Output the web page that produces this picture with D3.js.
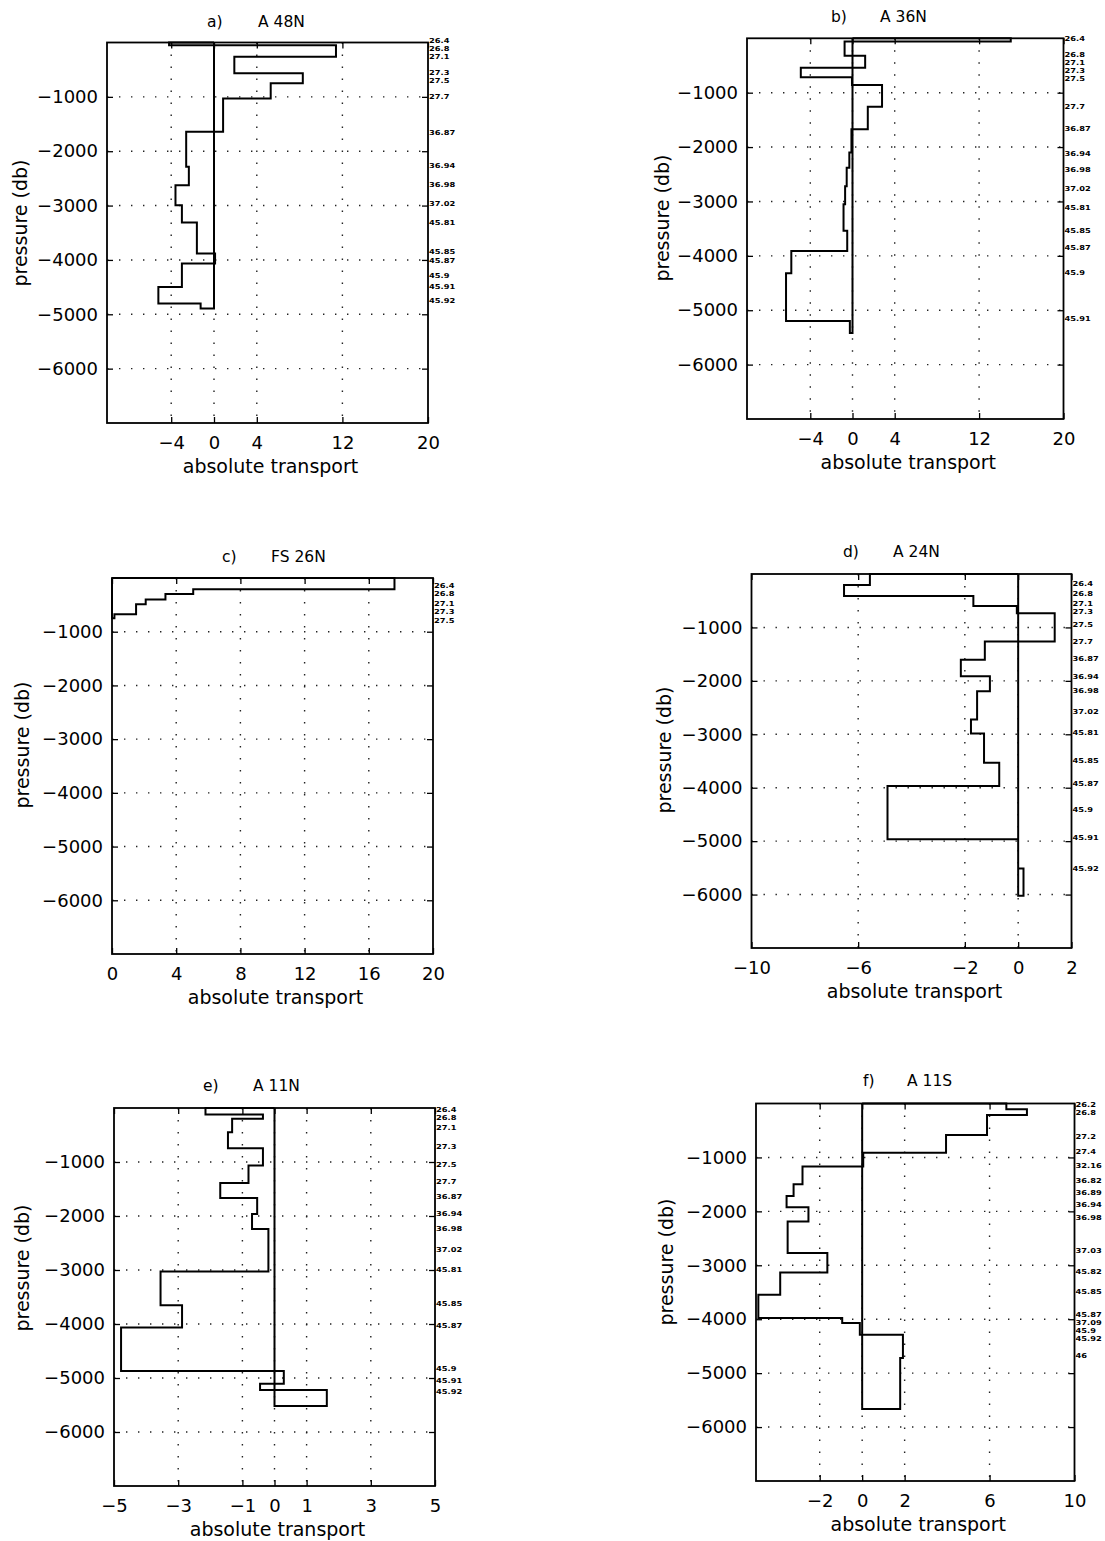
<!DOCTYPE html>
<html><head><meta charset="utf-8">
<script src="https://cdn.jsdelivr.net/npm/d3@7"></script>
<style>
body{margin:0;background:#fff}
svg{display:block}
text{font-family:"DejaVu Sans",sans-serif;fill:#000}
</style>
</head><body>
<svg id="chart" width="1105" height="1541"></svg>
<script>
// ---------- data ----------
const pressureTicks = [-1000, -2000, -3000, -4000, -5000, -6000];

// a) A 48N
const aDepth = [0, 50, 261, 567, 751, 1028, 1643, 2287, 2624, 2993, 3311, 3882, 4066, 4497, 4803, 4895];
const aTransport = [-4.2, 11.4, 1.9, 8.3, 5.3, 0.85, -2.6, -2.35, -3.6, -3.0, -1.6, 0.1, -3.0, -5.2, -1.25];
const aLabels = ["26.4","26.8","27.1","27.3","27.5","27.7","36.87","36.94","36.98","37.02","45.81","45.85","45.87","45.9","45.91","45.92"];
const aLabelDepth = [-28, 120, 267, 556, 703, 998, 1654, 2274, 2611, 2961, 3311, 3853, 4006, 4294, 4497, 4755];
const aTicks = [-4, 0, 4, 12, 20];

// b) A 36N
const bDepth = [0, 60, 320, 540, 717, 858, 1257, 1673, 2100, 2380, 2720, 3050, 3540, 3910, 4320, 5200, 5420];
const bTransport = [15.0, -0.75, 1.2, -4.9, -0.05, 2.8, 1.45, -0.1, -0.3, -0.55, -0.7, -0.85, -0.5, -5.8, -6.3, -0.25];
const bLabels = ["26.4","26.8","27.1","27.3","27.5","27.7","36.87","36.94","36.98","37.02","45.81","45.85","45.87","45.9","45.91"];
const bLabelDepth = [0, 294, 454, 601, 748, 1257, 1654, 2114, 2421, 2757, 3114, 3542, 3849, 4301, 5147];
const bTicks = [-4, 0, 4, 12, 20];

// c) FS 26N
const cDepth = [0, 210, 300, 400, 490, 675, 750];
const cTransport = [17.6, 5.06, 3.33, 2.1, 1.5, 0.15];
const cLabels = ["26.4","26.8","27.1","27.3","27.5"];
const cLabelDepth = [150, 300, 470, 630, 790];
const cTicks = [0, 4, 8, 12, 16, 20];

// d) A 24N
const dDepth = [0, 205, 410, 597, 733, 1263, 1604, 1916, 2195, 2724, 2985, 3532, 3968, 4963, 5510, 6021];
const dTransport = [-5.56, -6.53, -1.68, -0.05, 1.37, -1.25, -2.15, -1.06, -1.54, -1.77, -1.28, -0.71, -4.9, 0, 0.2];
const dLabels = ["26.4","26.8","27.1","27.3","27.5","27.7","36.87","36.94","36.98","37.02","45.81","45.85","45.87","45.9","45.91","45.92"];
const dLabelDepth = [187, 360, 547, 703, 951, 1263, 1591, 1916, 2177, 2569, 2972, 3502, 3918, 4403, 4931, 5509];
const dTicks = [-10, -6, -2, 0, 2];

// e) A 11N
const eDepth = [0, 120, 200, 449, 746, 1067, 1388, 1666, 1963, 2241, 3028, 3651, 4067, 4870, 5105, 5223, 5520];
const eTransport = [-2.15, -0.36, -1.32, -1.45, -0.36, -0.81, -1.69, -0.54, -0.7, -0.19, -3.55, -2.88, -4.78, 0.29, -0.45, 1.63];
const eLabels = ["26.4","26.8","27.1","27.3","27.5","27.7","36.87","36.94","36.98","37.02","45.81","45.85","45.87","45.9","45.91","45.92"];
const eLabelDepth = [28, 186, 356, 709, 1054, 1364, 1642, 1952, 2230, 2625, 3002, 3614, 4022, 4827, 5056, 5255];
const eTicks = [-5, -3, -1, 0, 1, 3, 5];

// f) A 11S
const fDepth = [0, 108, 213, 583, 911, 1170, 1496, 1713, 1922, 2189, 2774, 3133, 3546, 3978, 4070, 4287, 4719, 5663];
const fTransport = [6.79, 7.76, 5.88, 3.95, 0.05, -2.81, -3.23, -3.56, -2.53, -3.51, -1.64, -3.86, -4.89, -0.94, -0.11, 1.92, 1.79];
const fLabels = ["26.2","26.8","27.2","27.4","32.16","36.82","36.89","36.94","36.98","37.03","45.82","45.85","45.87","37.09","45.9","45.92","46"];
const fLabelDepth = [19, 176, 613, 891, 1157, 1429, 1651, 1880, 2107, 2731, 3114, 3485, 3917, 4065, 4213, 4361, 4676];
const fTicks = [-2, 0, 2, 6, 10];

// ---------- layout ----------
const panels = [
  {tag:"a)", name:"A 48N", depth:aDepth, tr:aTransport, labels:aLabels, labDepth:aLabelDepth, ticks:aTicks, dom:[-10,20],
   box:[107,428,42.5,423], tx:[207,258], ty:27, ylx:20, yly:223},
  {tag:"b)", name:"A 36N", depth:bDepth, tr:bTransport, labels:bLabels, labDepth:bLabelDepth, ticks:bTicks, dom:[-10,20],
   box:[747,1063.5,38.3,419], tx:[831,880], ty:22, ylx:662, yly:218},
  {tag:"c)", name:"FS 26N", depth:cDepth, tr:cTransport, labels:cLabels, labDepth:cLabelDepth, ticks:cTicks, dom:[0,20],
   box:[112,433,578,954], tx:[222,271], ty:562, ylx:22, yly:745},
  {tag:"d)", name:"A 24N", depth:dDepth, tr:dTransport, labels:dLabels, labDepth:dLabelDepth, ticks:dTicks, dom:[-10,2],
   box:[751.5,1071.5,574,948], tx:[843,893], ty:557, ylx:664, yly:750},
  {tag:"e)", name:"A 11N", depth:eDepth, tr:eTransport, labels:eLabels, labDepth:eLabelDepth, ticks:eTicks, dom:[-5,5],
   box:[114,435,1108,1486], tx:[203,253], ty:1091, ylx:22, yly:1268},
  {tag:"f)", name:"A 11S", depth:fDepth, tr:fTransport, labels:fLabels, labDepth:fLabelDepth, ticks:fTicks, dom:[-5,10],
   box:[756,1074.5,1103.5,1481], tx:[863,907], ty:1086, ylx:666, yly:1262}
];

const svg = d3.select("#chart");
const fmt = d3.format("d");

panels.forEach(p => {
  const [L, R, T, B] = p.box;
  const x = d3.scaleLinear().domain(p.dom).range([L, R]);
  const y = d3.scaleLinear().domain([-7000, 0]).range([B, T]);
  const g = svg.append("g");

  // grid (dotted)
  const grid = g.append("g").attr("stroke", "#222").attr("stroke-width", 1.4)
    .attr("stroke-dasharray", "1.4 10.6").attr("fill", "none");
  grid.selectAll("line.v").data(p.ticks.filter(t => t > p.dom[0] && t < p.dom[1])).join("line")
    .attr("class", "v").attr("x1", d => x(d)).attr("x2", d => x(d)).attr("y1", T).attr("y2", B);
  grid.selectAll("line.h").data(pressureTicks).join("line")
    .attr("class", "h").attr("x1", L).attr("x2", R).attr("y1", d => y(d)).attr("y2", d => y(d));

  // axes with inward ticks
  const axB = g.append("g").attr("transform", `translate(0,${B})`)
    .call(d3.axisBottom(x).tickValues(p.ticks).tickFormat(fmt).tickSizeInner(-6).tickSizeOuter(0).tickPadding(13));
  const axL = g.append("g").attr("transform", `translate(${L},0)`)
    .call(d3.axisLeft(y).tickValues(pressureTicks).tickFormat(fmt).tickSizeInner(-6).tickSizeOuter(0).tickPadding(9));
  const axT = g.append("g").attr("transform", `translate(0,${T})`)
    .call(d3.axisTop(x).tickValues(p.ticks).tickFormat("").tickSizeInner(-6).tickSizeOuter(0));
  const axR = g.append("g").attr("transform", `translate(${R},0)`)
    .call(d3.axisRight(y).tickValues(pressureTicks).tickFormat("").tickSizeInner(-6).tickSizeOuter(0));
  [axB, axL, axT, axR].forEach(a => {
    a.select(".domain").remove();
    a.selectAll(".tick line").attr("stroke", "#000").attr("stroke-width", 1.3);
    a.selectAll(".tick text").attr("font-family", '"DejaVu Sans",sans-serif').attr("font-size", 18).attr("fill", "#000");
  });

  // profile (stairs, closed to zero line)
  const pts = [[0, p.depth[0]]];
  p.tr.forEach((v, i) => { pts.push([v, p.depth[i]]); pts.push([v, p.depth[i + 1]]); });
  pts.push([0, p.depth[p.depth.length - 1]]);
  pts.push([0, p.depth[0]]);
  const line = d3.line().x(d => x(d[0])).y(d => y(-d[1]));
  g.append("path").attr("d", line(pts)).attr("fill", "none").attr("stroke", "#000")
    .attr("stroke-width", 2).attr("stroke-linejoin", "miter");

  // frame
  g.append("rect").attr("x", L).attr("y", T).attr("width", R - L).attr("height", B - T)
    .attr("fill", "none").attr("stroke", "#000").attr("stroke-width", 1.8);

  // density labels on the right (slightly widened, like the scan)
  g.selectAll("text.dens").data(p.labels).join("text").attr("class", "dens")
    .attr("transform", (d, i) => `translate(${R + 1},${y(-p.labDepth[i])}) scale(1.22,1)`)
    .attr("dy", "0.35em")
    .attr("font-size", 6.8).attr("font-weight", "bold").text(d => d);

  // titles
  g.append("text").attr("x", p.tx[0]).attr("y", p.ty).attr("font-size", 15.5).text(p.tag);
  g.append("text").attr("x", p.tx[1]).attr("y", p.ty).attr("font-size", 15.5).text(p.name);

  // axis labels
  g.append("text").attr("x", (L + R) / 2 + 3).attr("y", B + 50).attr("text-anchor", "middle")
    .attr("font-size", 19).text("absolute transport");
  g.append("text").attr("transform", `translate(${p.ylx},${p.yly}) rotate(-90)`)
    .attr("text-anchor", "middle").attr("dy", "0.35em").attr("font-size", 19).text("pressure (db)");
});
</script>
</body></html>
